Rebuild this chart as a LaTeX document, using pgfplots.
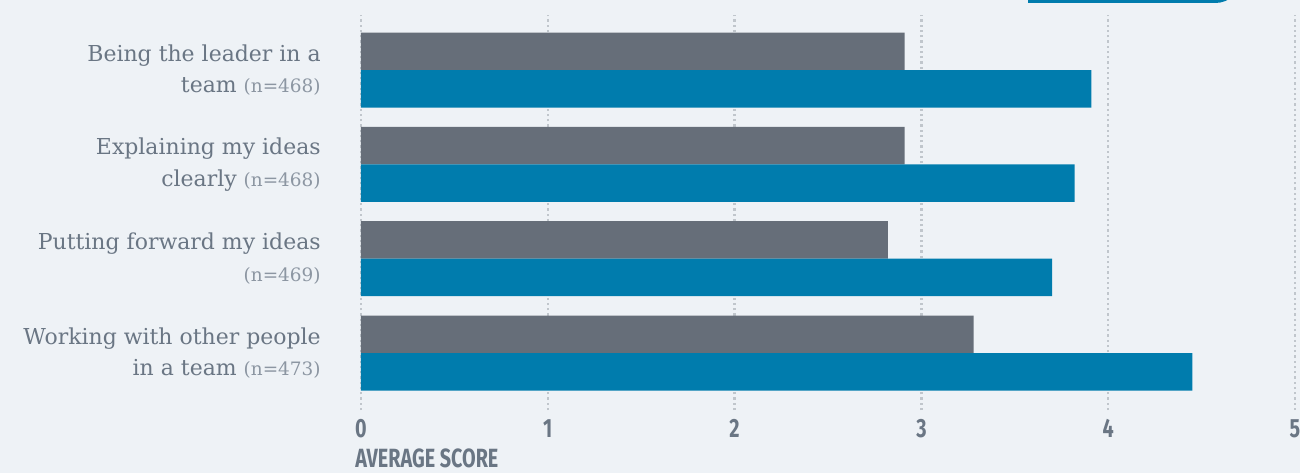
\documentclass[border=0pt]{standalone}
\usepackage{fontspec}
\setmainfont{DejaVu Serif}
\newfontfamily\numfont[FakeStretch=0.75]{Fira Sans}
\usepackage{pgfplots}
\pgfplotsset{compat=1.18}
\definecolor{bgC}{HTML}{EEF2F6}
\definecolor{greyBar}{HTML}{666E79}
\definecolor{blueBar}{HTML}{007CAD}
\definecolor{txtC}{HTML}{6A7684}
\definecolor{nC}{HTML}{8C96A2}
\definecolor{gridC}{HTML}{C0C6CC}
\newcommand{\nn}[1]{{\fontsize{10.5}{18}\selectfont\color{nC}(n=#1)}}

\begin{document}
\begin{tikzpicture}
\fill[bgC] (0,0) rectangle (260mm,94.6mm);
\begin{axis}[
    at={(72.2mm,12.6mm)}, anchor=south west,
    scale only axis,
    width=186.8mm, height=79mm,
    xbar,
    bar width=7.5mm,
    xmin=0, xmax=5,
    ymin=-0.604, ymax=3.584,
    xtick={0,1,2,3,4,5},
    ytick={0,1,2,3},
    yticklabels={
      {Working with other people\\in a team \nn{473}},
      {Putting forward my ideas\\\nn{469}},
      {Explaining my ideas\\clearly \nn{468}},
      {Being the leader in a\\team \nn{468}}},
    yticklabel style={align=right, inner sep=0pt, xshift=-8mm,
      font=\fontsize{12.5}{18}\selectfont, text=txtC},
    /pgf/number format/assume math mode=true,
    xticklabel style={inner sep=0pt, anchor=north, yshift=-1.8mm,
      font=\numfont\bfseries\fontsize{15}{15}\selectfont, text=txtC},
    xlabel={AVERAGE SCORE},
    xlabel style={at={(rel axis cs:0,0)}, anchor=north west, inner sep=0pt,
      yshift=-7.7mm, xshift=-1.2mm,
      font=\numfont\bfseries\fontsize{15}{15}\selectfont, text=txtC},
    axis line style={draw=none},
    major tick length=0pt,
    xmajorgrids,
    grid style={gridC, line width=0.45mm, dash pattern=on 0.45mm off 0.6mm},
]
  \addplot[fill=greyBar, draw=none, bar shift=3.75mm] coordinates {
    (3.28,0) (2.82,1) (2.91,2) (2.91,3)
  };
  \addplot[fill=blueBar, draw=none, bar shift=-3.75mm] coordinates {
    (4.45,0) (3.70,1) (3.82,2) (3.91,3)
  };
\end{axis}
\draw[blueBar, line width=0.7mm] (205.6mm,94.35mm) -- (243mm,94.35mm)
  to[out=0,in=-90] (248mm,99mm);
\pgfresetboundingbox
\path[use as bounding box] (0,0) rectangle (260mm,94.6mm);
\end{tikzpicture}
\end{document}
